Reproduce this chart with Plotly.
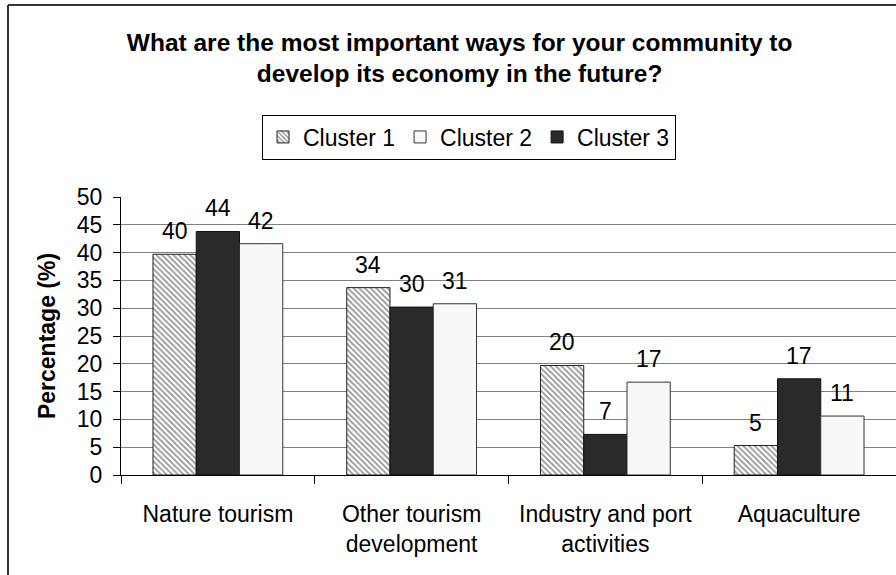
import plotly.graph_objects as go

categories = ["Nature tourism", "Other tourism<br>development", "Industry and port<br>activities", "Aquaculture"]
cluster1 = [39.7, 33.7, 19.7, 5.3]
cluster2 = [41.6, 30.8, 16.7, 10.6]
cluster3 = [43.8, 30.2, 7.3, 17.3]
y_ticks = list(range(0, 55, 5))

W, H = 896, 575
ML, MR, MT, MB = 121, 0, 197, 100
BARGAP = 0.33
FONT = "Liberation Sans, Arial, sans-serif"

fig = go.Figure()
# bar order in the picture: Cluster 1, Cluster 3, Cluster 2
series = [
    ("Cluster 1", cluster1, dict(color="white", line=dict(color="#222", width=1),
                                 pattern=dict(shape="\\", size=4, solidity=0.45,
                                              fgcolor="#2a2a2a", bgcolor="white", fillmode="overlay")), 1),
    ("Cluster 3", cluster3, dict(color="#2a2a2a", line=dict(color="#111", width=1)), 3),
    ("Cluster 2", cluster2, dict(color="#f8f8f8", line=dict(color="#333", width=1)), 2),
]
for name, vals, marker, rank in series:
    fig.add_trace(go.Bar(name=name, x=categories, y=vals, marker=marker, legendrank=rank))

plot_w = W - ML - MR
bar_px = plot_w / len(categories) * (1 - BARGAP) / 3
annotations = []
for k, (name, vals, marker, rank) in enumerate(series):
    for c, v in zip(categories, vals):
        annotations.append(dict(x=c, y=v, xref="x", yref="y", text=f"{v:.0f}", showarrow=False,
                                xshift=(k - 1) * bar_px, yshift=8, yanchor="bottom",
                                font=dict(size=23, color="black", family=FONT)))

# outer frame
py = lambda p: (H - MB - p) / (H - MT - MB)
px = lambda p: (p - ML) / plot_w
shapes = [
    dict(type="line", xref="paper", yref="paper", x0=px(8), x1=px(8), y0=py(600), y1=py(5),
         line=dict(color="#333", width=2)),
    dict(type="line", xref="paper", yref="paper", x0=px(8), x1=px(900), y0=py(5), y1=py(5),
         line=dict(color="#333", width=2)),
]

fig.update_layout(
    width=W, height=H,
    margin=dict(l=ML, r=MR, t=MT, b=MB),
    paper_bgcolor="white", plot_bgcolor="white",
    barmode="group", bargap=BARGAP, bargroupgap=0,
    font=dict(family=FONT, size=23, color="black"),
    title=dict(text="<b>What are the most important ways for your community to<br>develop its economy in the future?</b>",
               x=0.513, xanchor="center", y=0.912, yanchor="middle",
               font=dict(size=24.5, family=FONT, color="black")),
    legend=dict(orientation="h", x=px(469), xanchor="center", y=py(137), yanchor="middle",
                bordercolor="black", borderwidth=1, bgcolor="white",
                font=dict(size=23, family=FONT), traceorder="normal", itemwidth=30),
    annotations=annotations,
    shapes=shapes,
    showlegend=True,
)
fig.update_yaxes(range=[0, 50], tickvals=y_ticks, showline=True, linecolor="black", linewidth=1,
                 ticks="outside", ticklen=7, tickcolor="black", showgrid=True, gridcolor="#808080",
                 gridwidth=1, zeroline=False, ticklabelstandoff=6, tickfont=dict(size=23),
                 title=dict(text="<b>Percentage (%)</b>", standoff=14, font=dict(size=23)))
fig.update_xaxes(showline=True, linecolor="black", linewidth=1, ticks="outside", ticklen=8,
                 tickcolor="black", tickson="boundaries", showgrid=False, ticklabelstandoff=18,
                 tickfont=dict(size=23))

fig.write_html("out.html")
